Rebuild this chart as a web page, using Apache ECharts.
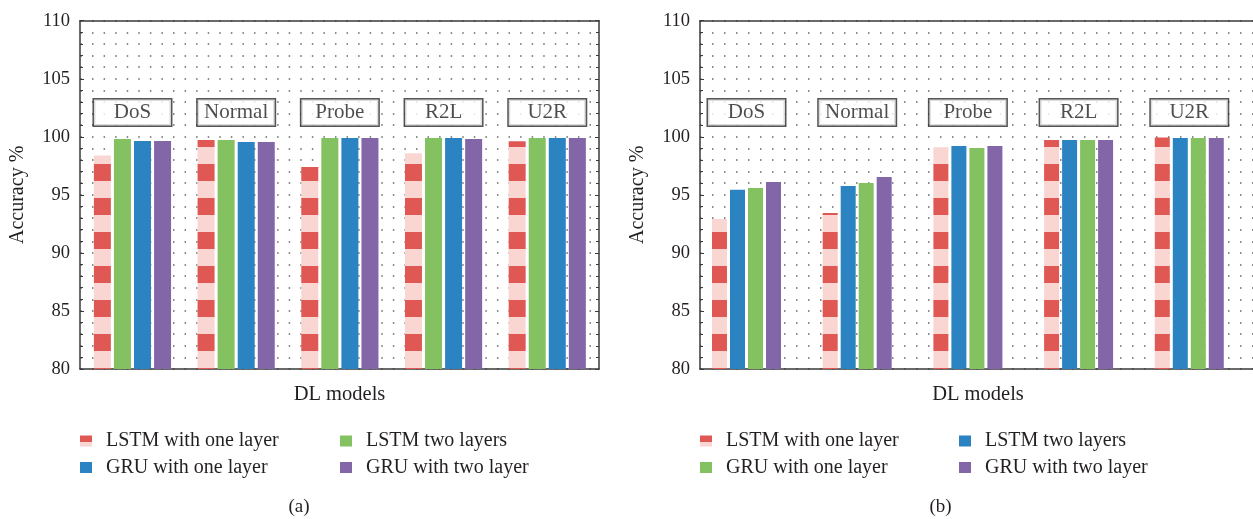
<!DOCTYPE html>
<html>
<head>
<meta charset="utf-8">
<script src="https://cdn.jsdelivr.net/npm/echarts@6/dist/echarts.min.js"></script>
<style>
  html, body { margin: 0; padding: 0; background: #fff; }
  #wrap { position: relative; width: 1253px; height: 519px; overflow: hidden; }
  #chartA { position: absolute; left: 0; top: 0; width: 626px; height: 519px; }
  #chartB { position: absolute; left: 626px; top: 0; width: 627px; height: 519px; }
</style>
</head>
<body>
<div id="wrap"><div id="chartA"></div><div id="chartB"></div></div>
<script>
// attack categories (shown in the boxes above each group)
const categories = ["DoS", "Normal", "Probe", "R2L", "U2R"];
const seriesNames = ["LSTM with one layer", "LSTM two layers", "GRU with one layer", "GRU with two layer"];

// (a)
const lstmOneA = [98.4, 99.73, 97.4, 98.58, 99.61];
const lstmTwoA = [99.81, 99.73, 99.9, 99.9, 99.9];
const gruOneA = [99.64, 99.55, 99.9, 99.9, 99.9];
const gruTwoA = [99.64, 99.55, 99.9, 99.81, 99.9];

// (b)
const lstmOneB = [92.92, 93.44, 99.09, 99.72, 99.95];
const lstmTwoB = [95.43, 95.76, 99.2, 99.72, 99.9];
const gruOneB = [95.6, 96.02, 99.03, 99.72, 99.9];
const gruTwoB = [96.1, 96.54, 99.2, 99.72, 99.9];

const yTicks = [80, 85, 90, 95, 100, 105, 110];
const boxLevel = 102.1; // y value where the category boxes sit

const RED = "#e05854", PINK = "#fad6d2";
const GREEN = "#84c160", BLUE = "#2b83c2", PURPLE = "#8366a8";
const INK = "#231f20";
const FONT = "Liberation Serif";

// striped fill for the one-layer LSTM bars
function stripes() {
  const c = document.createElement("canvas");
  c.width = 8;
  c.height = 34;
  const ctx = c.getContext("2d");
  ctx.fillStyle = PINK;
  ctx.fillRect(0, 0, 8, 34);
  ctx.fillStyle = RED;
  ctx.fillRect(0, 0, 8, 11);
  ctx.fillRect(0, 28, 8, 6);
  return { image: c, repeat: "repeat" };
}

const redIcon = {
  type: "linear", x: 0, y: 0, x2: 0, y2: 1,
  colorStops: [
    { offset: 0, color: RED }, { offset: 0.55, color: RED },
    { offset: 0.55, color: PINK }, { offset: 1, color: PINK }
  ]
};

function dotted(period) {
  // first dot about 12.7px right of the y axis
  return {
    show: true,
    lineStyle: {
      color: "#666",
      width: 1.5,
      type: [1.5, period - 1.5],
      dashOffset: ((-12 % period) + period) % period
    }
  };
}

function legendItem(i, color) {
  return { name: seriesNames[i], itemStyle: { color: color } };
}

function buildOption(p) {
  const yMin = yTicks[0], yMax = yTicks[yTicks.length - 1];
  const series = p.values.map((vals, i) => ({
    name: seriesNames[i],
    type: "bar",
    barWidth: p.barWidth,
    barGap: p.barGap,
    itemStyle: { color: p.colors[i] },
    data: vals.map((v, k) => [k + 1, v])
  }));
  series.push({
    type: "scatter",
    silent: true,
    symbolSize: 1,
    itemStyle: { color: "transparent" },
    data: categories.map((c, k) => [k + 1, boxLevel, c]),
    label: {
      show: true,
      position: "inside",
      formatter: (d) => d.data[2],
      fontFamily: FONT,
      fontSize: 21,
      color: INK,
      backgroundColor: "#fff",
      borderColor: "#2a2a2a",
      borderWidth: 1.5,
      width: 77,
      height: 26,
      lineHeight: 26,
      align: "center",
      verticalAlign: "middle"
    }
  });

  const legendBase = {
    orient: "vertical",
    top: 431,
    padding: 0,
    itemGap: 6.5,
    itemWidth: 12,
    itemHeight: 11,
    icon: "rect",
    selectedMode: false,
    textStyle: { fontFamily: FONT, fontSize: 20, color: INK, lineHeight: 20, padding: [0, 0, 0, 9] }
  };

  const yCommon = {
    type: "value",
    min: yMin,
    max: yMax,
    interval: yTicks[1] - yTicks[0],
    axisLine: { show: true, lineStyle: { color: "#3a3a3a", width: 1.5 } },
    axisTick: { show: true, inside: true, length: 4, lineStyle: { color: "#3a3a3a" } },
    minorTick: { show: true, splitNumber: 5, length: 3, lineStyle: { color: "#3a3a3a" } }
  };

  return {
    animation: false,
    grid: {
      left: p.gridLeft, width: p.gridWidth, top: 20.7, bottom: 150,
      show: false, outerBoundsMode: "none"
    },
    xAxis: [
      {
        type: "value", min: p.xMin, max: p.xMax, position: "bottom",
        name: "DL models", nameLocation: "middle", nameGap: 15,
        nameTextStyle: { fontFamily: FONT, fontSize: 20.5, color: INK },
        axisLine: { show: true, lineStyle: { color: "#3a3a3a", width: 1.5 } },
        axisTick: { show: false }, axisLabel: { show: false }, splitLine: { show: false }
      },
      {
        type: "value", min: p.xMin, max: p.xMax, position: "top",
        axisLine: { show: true, lineStyle: { color: "#3a3a3a", width: 1.5 } },
        axisTick: { show: false }, axisLabel: { show: false }, splitLine: { show: false }
      }
    ],
    yAxis: [
      Object.assign({}, yCommon, {
        position: "left",
        name: "Accuracy %", nameLocation: "middle", nameGap: 52,
        nameTextStyle: { fontFamily: FONT, fontSize: 20, color: INK },
        axisLabel: { fontFamily: FONT, fontSize: 18.5, color: INK, margin: 10 },
        splitLine: dotted(p.dotPeriod),
        minorSplitLine: dotted(p.dotPeriod)
      }),
      Object.assign({}, yCommon, {
        position: "right",
        show: p.rightBorder,
        axisLabel: { show: false },
        splitLine: { show: false }
      })
    ],
    legend: [
      Object.assign({}, legendBase, { left: p.legendLeft[0], data: p.legendCols[0] }),
      Object.assign({}, legendBase, { left: p.legendLeft[1], data: p.legendCols[1] })
    ],
    graphic: [{
      type: "text",
      x: p.captionX,
      y: 507,
      style: {
        text: p.caption, fontFamily: FONT, fontSize: 19, fill: INK,
        textAlign: "center", textVerticalAlign: "middle"
      }
    }],
    series: series
  };
}

const pattern = stripes();

const chartA = echarts.init(document.getElementById("chartA"));
chartA.setOption(buildOption({
  values: [lstmOneA, lstmTwoA, gruOneA, gruTwoA],
  colors: [pattern, GREEN, BLUE, PURPLE],
  gridLeft: 80, gridWidth: 519,
  xMin: 0.494, xMax: 5.499,
  barWidth: 17, barGap: "18%",
  dotPeriod: 11.57,
  rightBorder: true,
  legendLeft: [80, 340],
  legendCols: [
    [legendItem(0, redIcon), legendItem(2, BLUE)],
    [legendItem(1, GREEN), legendItem(3, PURPLE)]
  ],
  caption: "(a)", captionX: 299
}));

const chartB = echarts.init(document.getElementById("chartB"));
chartB.setOption(buildOption({
  values: [lstmOneB, lstmTwoB, gruOneB, gruTwoB],
  colors: [pattern, BLUE, GREEN, PURPLE],
  gridLeft: 74, gridWidth: 556,
  xMin: 0.58, xMax: 5.6026,
  barWidth: 15, barGap: "20%",
  dotPeriod: 12.0,
  rightBorder: false,
  legendLeft: [74, 333],
  legendCols: [
    [legendItem(0, redIcon), legendItem(2, GREEN)],
    [legendItem(1, BLUE), legendItem(3, PURPLE)]
  ],
  caption: "(b)", captionX: 314.5
}));
</script>
</body>
</html>
